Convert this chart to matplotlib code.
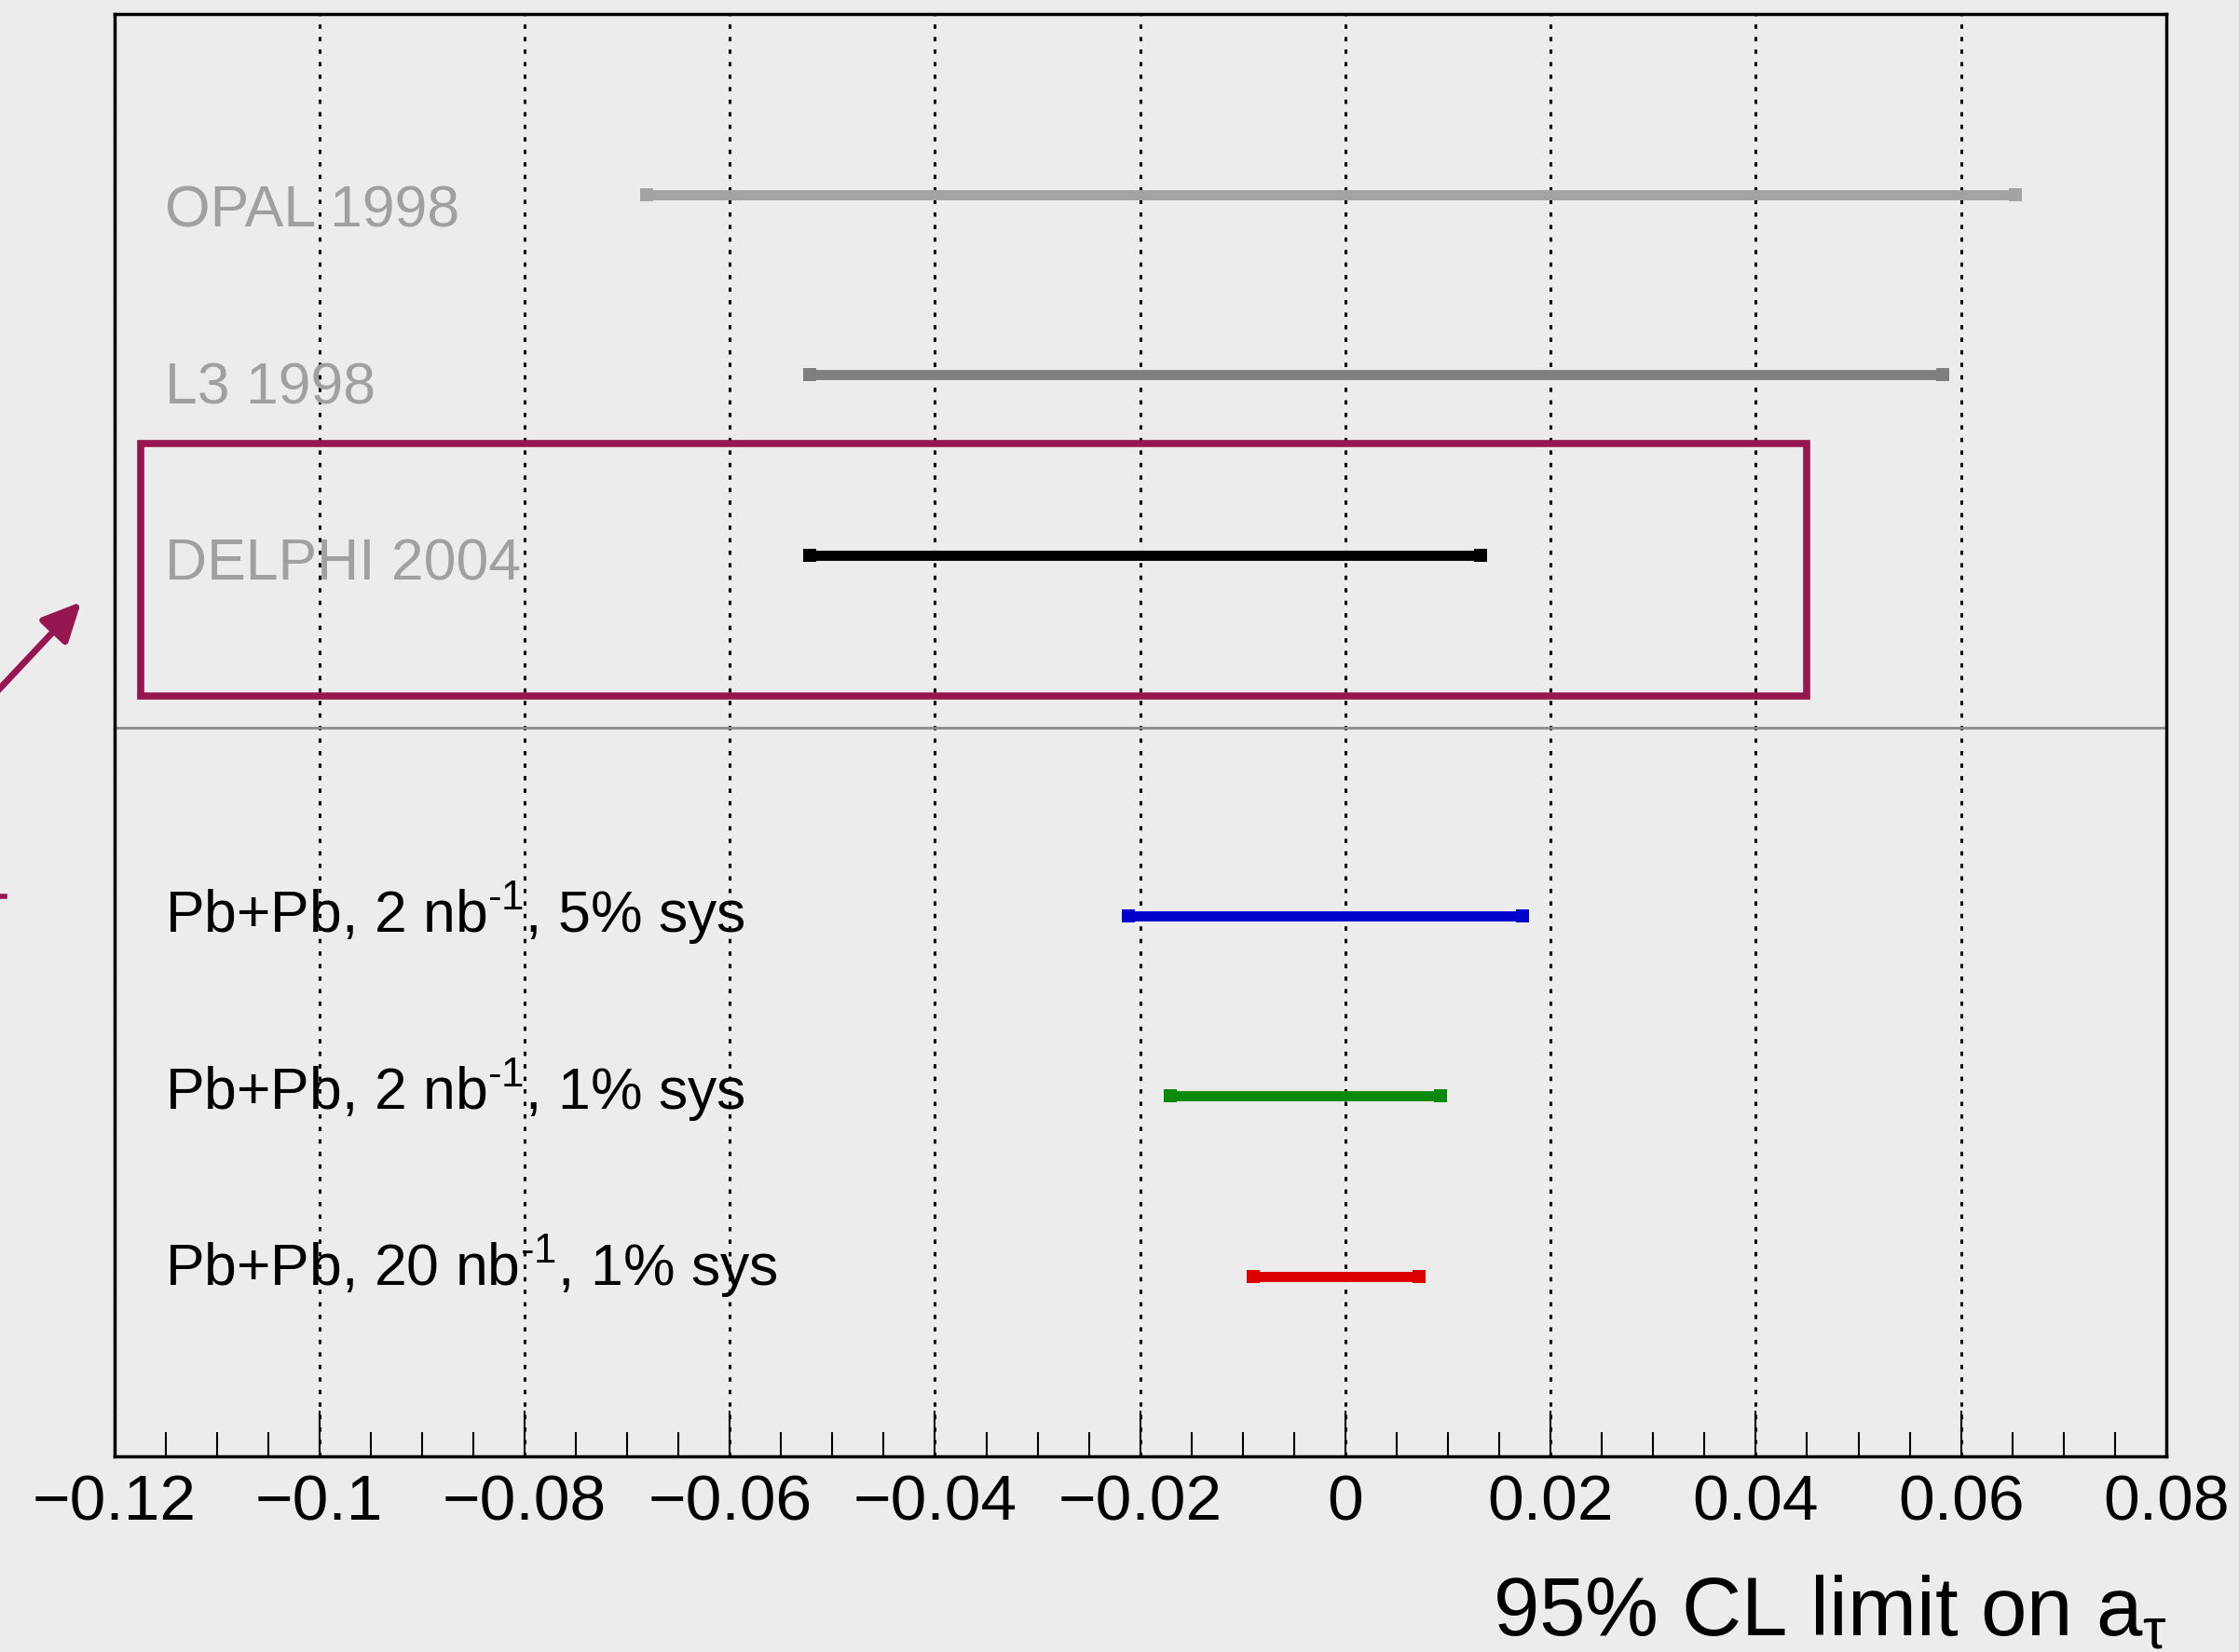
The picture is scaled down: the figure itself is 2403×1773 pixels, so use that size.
import matplotlib.pyplot as plt
from matplotlib.ticker import MultipleLocator
from matplotlib.patches import Rectangle, FancyArrowPatch
from matplotlib.lines import Line2D

# Data
labels = ["OPAL 1998", "L3 1998", "DELPHI 2004",
          "Pb+Pb, 2 nb$^{\\text{-1}}$, 5% sys",
          "Pb+Pb, 2 nb$^{\\text{-1}}$, 1% sys",
          "Pb+Pb, 20 nb$^{\\text{-1}}$, 1% sys"]
lower = [-0.0681, -0.0522, -0.0522, -0.0212, -0.0171, -0.0090]
upper = [0.0653, 0.0582, 0.0132, 0.0173, 0.0093, 0.0072]
rows = [7, 6, 5, 3, 2, 1]
bar_colors = ["#a3a3a3", "#7f7f7f", "#000000", "#0000cc", "#0a8a0a", "#dd0000"]
label_colors = ["#a0a0a0", "#a0a0a0", "#a0a0a0", "k", "k", "k"]
label_y = [6.82, 5.84, 4.86, 2.91, 1.93, 0.95]

bg = "#ececec"
purple = "#96174f"

plt.rcParams['font.family'] = 'Liberation Sans'
plt.rcParams['mathtext.fontset'] = 'custom'
plt.rcParams['mathtext.rm'] = 'Liberation Sans'
plt.rcParams['mathtext.it'] = 'Liberation Sans:italic'
plt.rcParams['mathtext.sf'] = 'Liberation Sans'

fig = plt.figure(figsize=(24.03, 17.73), dpi=100, facecolor=bg)
ax = fig.add_axes([0.051, 0.1184, 0.9165, 0.873])
ax.set_facecolor(bg)

# Limits
for lo, hi, y, c in zip(lower, upper, rows, bar_colors):
    ax.plot([lo, hi], [y, y], color=c, lw=7.8, solid_capstyle='butt', zorder=3)
    ax.plot([lo, hi], [y, y], ls='none', marker='s', ms=9.5, mew=0, color=c, zorder=3)

for txt, y, c in zip(labels, label_y, label_colors):
    ax.text(-0.1151, y, txt, fontsize=45, color=c, va='baseline', ha='left', zorder=4)

# separator between past results and projections
ax.axhline(4.04, color="#8a8a8a", lw=2, zorder=2)

# highlight box
ax.add_patch(Rectangle((-0.1174, 4.22), 0.1624, 1.40, fill=False,
                       ec=purple, lw=5.5, clip_on=False, zorder=5))

# Axes formatting
ax.set_xlim(-0.12, 0.08)
ax.set_ylim(0, 8)
ax.xaxis.set_major_locator(MultipleLocator(0.02))
ax.xaxis.set_minor_locator(MultipleLocator(0.005))
ax.set_yticks([])
ax.tick_params(axis='x', which='major', direction='in', length=35, width=1.5,
               labelsize=50, pad=13)
ax.tick_params(axis='x', which='minor', direction='in', length=19, width=1.5)
ax.set_xticks([-0.12, -0.1, -0.08, -0.06, -0.04, -0.02, 0, 0.02, 0.04, 0.06, 0.08])
ax.set_xticklabels(["\u22120.12", "\u22120.1", "\u22120.08", "\u22120.06", "\u22120.04",
                    "\u22120.02", "0", "0.02", "0.04", "0.06", "0.08"])
ax.grid(axis='x', which='major', color='k', ls=(0, (1.5, 2.9)), lw=2.2)
for s in ax.spines.values():
    s.set_linewidth(2.5)

ax.text(1.0, -0.124, "95% CL limit on a$_{\\mathrm{\\tau}}$", transform=ax.transAxes,
        ha='right', va='baseline', fontsize=64)

# arrow coming from the left edge
arrow = FancyArrowPatch((-20, 1013), (89, 1129), transform=None,
                        arrowstyle='-|>,head_length=25,head_width=12',
                        mutation_scale=1, color=purple, lw=5)
fig.add_artist(arrow)
fig.add_artist(Line2D([0, 5], [811, 811], transform=None, color=purple, lw=4))

fig.savefig("out.png", dpi=100, facecolor=bg)
